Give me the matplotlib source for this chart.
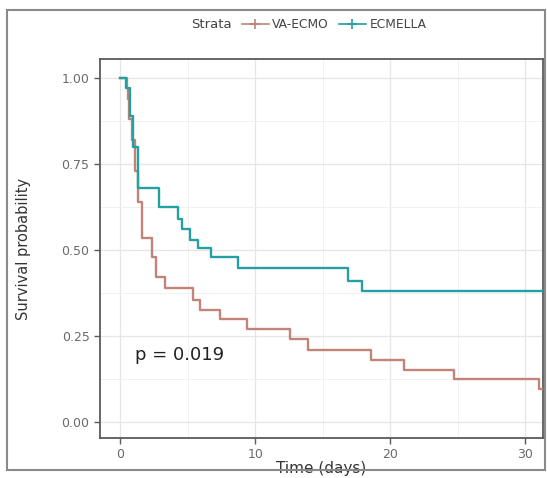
"""
Kaplan-Meier survival curves for VA-ECMO vs ECMELLA patients.
"""

import matplotlib
matplotlib.use("Agg")
import matplotlib.pyplot as plt
from matplotlib.lines import Line2D
from matplotlib.patches import Rectangle
from matplotlib.ticker import MultipleLocator, FormatStrFormatter

# Event times (days) and survival probability after each step
va_ecmo_time = [0, 0.5, 0.6, 0.7, 0.9, 1.1, 1.3, 1.6, 2.4, 2.7, 3.3, 5.4,
                5.9, 7.4, 9.4, 12.6, 13.9, 18.6, 21.0, 24.7, 31.0, 31.5]
va_ecmo_surv = [1.00, 0.97, 0.94, 0.88, 0.82, 0.73, 0.64, 0.535, 0.48, 0.42,
                0.39, 0.355, 0.325, 0.30, 0.27, 0.24, 0.21, 0.18, 0.15, 0.125,
                0.096, 0.096]

ecmella_time = [0, 0.45, 0.74, 0.96, 1.3, 2.85, 4.3, 4.6, 5.2, 5.8, 6.7,
                8.7, 16.9, 17.9, 31.5]
ecmella_surv = [1.00, 0.97, 0.89, 0.80, 0.68, 0.625, 0.59, 0.56, 0.53, 0.505,
                0.48, 0.447, 0.41, 0.38, 0.38]

strata = ["VA-ECMO", "ECMELLA"]
colors = ["#C08478", "#22A0A2"]
p_value = "p = 0.019"

x_ticks = [0, 10, 20, 30]
y_ticks = [0.00, 0.25, 0.50, 0.75, 1.00]

fig = plt.figure(figsize=(5.47, 4.78), dpi=100)
ax = fig.add_axes([100 / 547, 1 - 438 / 478, 443 / 547, 379 / 478])

for t, s, c in zip([va_ecmo_time, ecmella_time], [va_ecmo_surv, ecmella_surv], colors):
    ax.step(t, s, where="post", color=c, lw=1.7, zorder=3)

ax.set_xlim(-1.48, 31.3)
ax.set_ylim(-0.047, 1.055)
ax.set_xticks(x_ticks)
ax.set_yticks(y_ticks)
ax.yaxis.set_major_formatter(FormatStrFormatter("%.2f"))
ax.xaxis.set_minor_locator(MultipleLocator(5))
ax.yaxis.set_minor_locator(MultipleLocator(0.125))

ax.grid(which="major", color="#E6E6E6", lw=0.9)
ax.grid(which="minor", color="#EFEFEF", lw=0.6)
ax.set_axisbelow(True)
for sp in ax.spines.values():
    sp.set_color("#5A5A5A")
    sp.set_linewidth(1.3)
ax.tick_params(which="major", length=4, width=1.0, color="#5A5A5A",
               labelcolor="#6A6A6A", labelsize=9)
ax.tick_params(which="minor", length=0)

ax.set_xlabel("Time (days)", fontsize=11, color="#333333", labelpad=0)
ax.set_ylabel("Survival probability", fontsize=10.5, color="#333333", labelpad=22)

ax.text(1.1, 0.195, p_value, fontsize=13, color="#222222", va="center", ha="left")

# Legend across the top, with the "Strata" title to its left
handles = [Line2D([], [], color=c, lw=1.2, marker="+", markersize=7, mew=1.2)
           for c in colors]
fig.legend(handles, strata, ncol=2, loc="center",
           bbox_to_anchor=(334 / 547, 1 - 25 / 478), frameon=False,
           fontsize=8.8, handlelength=2.2, handletextpad=0.3,
           columnspacing=0.8, labelcolor="#444444")
fig.text(232 / 547, 1 - 25 / 478, "Strata", fontsize=9.5, color="#444444",
         ha="right", va="center")

# outer border of the figure panel
fig.patches.append(Rectangle((7 / 547, 1 - 470 / 478), 538 / 547, 460 / 478,
                             transform=fig.transFigure, fill=False,
                             edgecolor="#8A8A8A", lw=1.5))

fig.savefig("out.png", dpi=100)
